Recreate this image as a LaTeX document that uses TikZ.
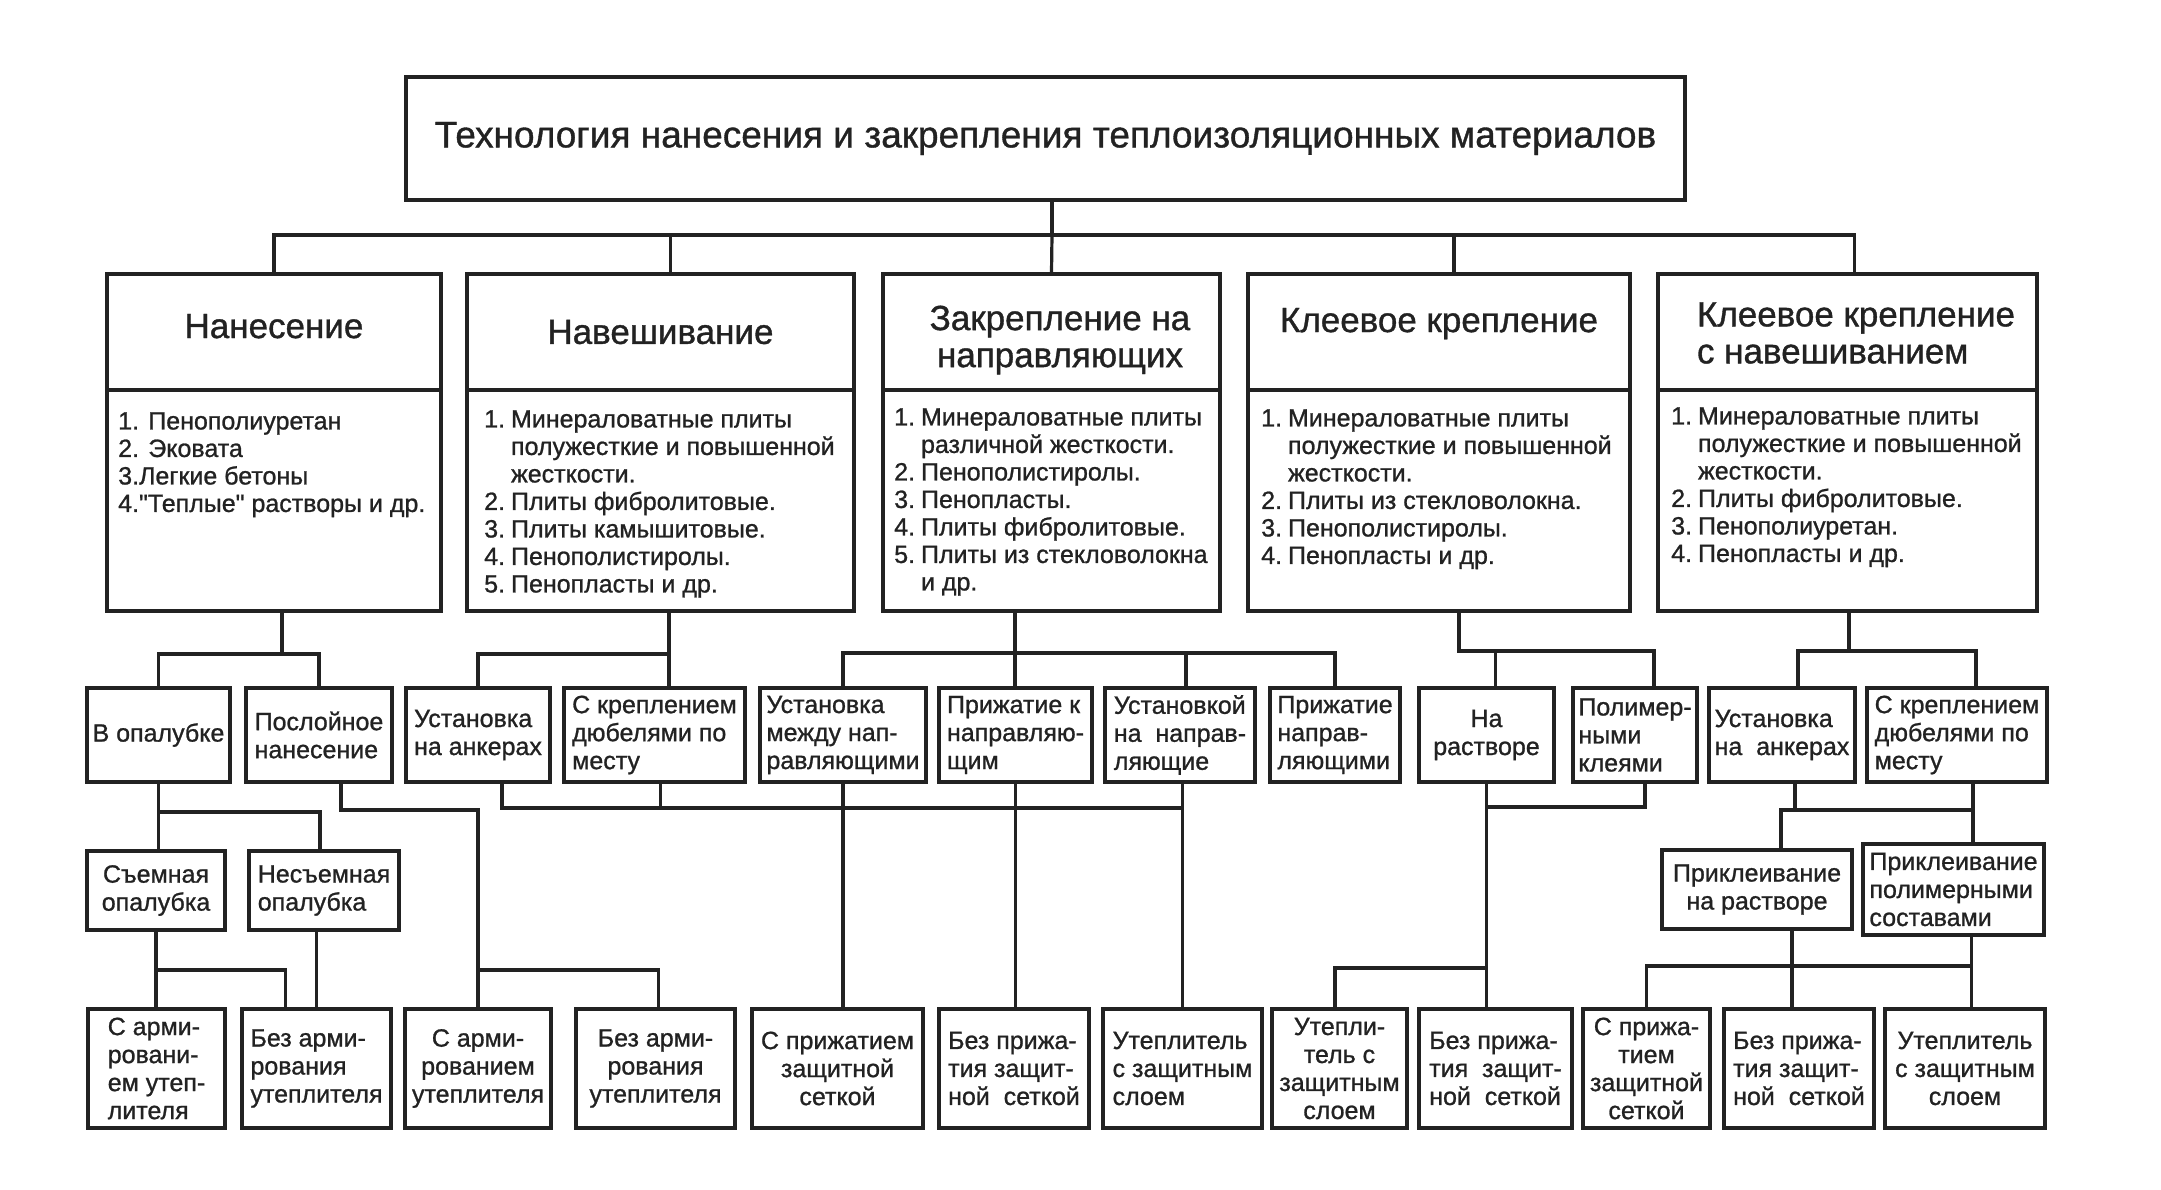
\documentclass[tikz,border=0pt]{standalone}
\usepackage{fontspec}
\setmainfont{Liberation Sans}[FakeBold=1]
\newfontfamily\rawfont{Liberation Sans}[FakeBold=1]
\definecolor{ink}{HTML}{222222}
\newcommand\bx[7][]{\node[box,minimum width={#4-#2},minimum height={#5-#3},#1] (#6) at ({(#2+#4)/2},{(#3+#5)/2}) {#7};}
\tikzset{
 box/.style={draw=ink, line width=3.4pt, inner sep=0pt, text=ink, font=\fontsize{25}{28}\selectfont},
 hdr/.style={font=\fontsize{35}{37}\selectfont},
 hdrtxt/.style={inner sep=0pt, text=ink, font=\fontsize{35}{37}\selectfont},
 link/.style={draw=ink, line width=3.2pt, line cap=rect},
 listtxt/.style={inner sep=0pt, text=ink, anchor=north west, font=\fontsize{25}{27.5}\selectfont},
}
\begin{document}
\begin{tikzpicture}[x=1pt,y=-1pt]
\useasboundingbox (0,0) rectangle (2161,1189);
% title
\bx[font=\fontsize{37}{40}\selectfont]{406}{77}{1685}{200}{title}{Технология нанесения и закрепления теплоизоляционных материалов}
% level 1 headers
\bx[hdr,text depth=12pt]{107}{274}{441}{390}{t1}{Нанесение}
\bx[hdr]{467}{274}{854}{390}{t2}{Навешивание}
\bx{883}{274}{1220}{390}{t3}{}
\node[hdrtxt,align=center] (t3x) at (1060,340) {Закрепление на\\направляющих};
\bx[hdr,text depth=24pt]{1248}{274}{1630}{390}{t4}{Клеевое крепление}
\bx{1658}{274}{2037}{390}{t5}{}
\node[hdrtxt,align=left] (t5x) at (1856,333) {Клеевое крепление\\с навешиванием};
% level 1 contents
\bx{107}{390}{441}{611}{c1}{}
\bx{467}{390}{854}{611}{c2}{}
\bx{883}{390}{1220}{611}{c3}{}
\bx{1248}{390}{1630}{611}{c4}{}
\bx{1658}{390}{2037}{611}{c5}{}
\node[listtxt] (l1) at (118,410) {\begin{tabular}{@{}l@{}}1. Пенополиуретан\\2. Эковата\\3.Легкие бетоны\\4.{\rawfont"}Теплые{\rawfont"} растворы и др.\end{tabular}};
\node[listtxt] (l2) at (484,408) {\begin{tabular}{@{}r@{\hspace{6pt}}l@{}}1.&Минераловатные плиты\\&полужесткие и повышенной\\&жесткости.\\2.&Плиты фибролитовые.\\3.&Плиты камышитовые.\\4.&Пенополистиролы.\\5.&Пенопласты и др.\end{tabular}};
\node[listtxt] (l3) at (894,406) {\begin{tabular}{@{}r@{\hspace{6pt}}l@{}}1.&Минераловатные плиты\\&различной жесткости.\\2.&Пенополистиролы.\\3.&Пенопласты.\\4.&Плиты фибролитовые.\\5.&Плиты из стекловолокна\\&и др.\end{tabular}};
\node[listtxt] (l4) at (1261,407) {\begin{tabular}{@{}r@{\hspace{6pt}}l@{}}1.&Минераловатные плиты\\&полужесткие и повышенной\\&жесткости.\\2.&Плиты из стекловолокна.\\3.&Пенополистиролы.\\4.&Пенопласты и др.\end{tabular}};
\node[listtxt] (l5) at (1671,405) {\begin{tabular}{@{}r@{\hspace{6pt}}l@{}}1.&Минераловатные плиты\\&полужесткие и повышенной\\&жесткости.\\2.&Плиты фибролитовые.\\3.&Пенополиуретан.\\4.&Пенопласты и др.\end{tabular}};
% level 2
\bx[align=left]{87}{688}{230}{782}{vop}{В опалубке}
\bx[align=left]{246}{688}{392}{782}{pos}{Послойное\\нанесение}
\bx[align=left]{406}{688}{550}{782}{ank1}{Установка\\на анкерах}
\bx[align=left]{564}{688}{745}{782}{dub1}{С креплением\\дюбелями по\\месту}
\bx[align=left]{760}{688}{926}{782}{um}{Установка\\между нап-\\равляющими}
\bx[align=left]{939}{688}{1092}{782}{pk}{Прижатие к\\направляю-\\щим}
\bx[align=left]{1105}{688}{1255}{782}{un}{Установкой\\на~~направ-\\ляющие}
\bx[align=left]{1270}{688}{1400}{782}{pn}{Прижатие\\направ-\\ляющими}
\bx[align=center]{1419}{688}{1554}{782}{nr}{На\\растворе}
\bx[align=left]{1573}{688}{1697}{782}{pm}{Полимер-\\ными\\клеями}
\bx[align=left]{1709}{688}{1855}{782}{ank2}{Установка\\на~~анкерах}
\bx[align=left]{1867}{688}{2047}{782}{dub2}{С креплением\\дюбелями по\\месту}
% level 3
\bx[align=center]{87}{851}{225}{930}{snp}{Съемная\\опалубка}
\bx[align=left]{249}{851}{399}{930}{nsp}{Несъемная\\опалубка}
\bx[align=center]{1662}{850}{1852}{929}{prr}{Приклеивание\\на растворе}
\bx[align=left]{1863}{844}{2044}{935}{ppc}{Приклеивание\\полимерными\\составами}
% bottom
\bx[align=left]{88}{1009}{225}{1128}{ca1}{С арми-\\ровани-\\ем утеп-\\лителя}
\bx[align=left]{242}{1009}{391}{1128}{ba1}{Без арми-\\рования\\утеплителя}
\bx[align=center]{405}{1009}{551}{1128}{ca2}{С арми-\\рованием\\утеплителя}
\bx[align=center]{576}{1009}{735}{1128}{ba2}{Без арми-\\рования\\утеплителя}
\bx[align=center]{752}{1009}{923}{1128}{sp1}{С прижатием\\защитной\\сеткой}
\bx[align=left]{939}{1009}{1089}{1128}{bp1}{Без прижа-\\тия защит-\\ной~~сеткой}
\bx[align=left]{1103}{1009}{1262}{1128}{ut1}{Утеплитель\\с защитным\\слоем}
\bx[align=center]{1272}{1009}{1407}{1128}{ut2}{Утепли-\\тель с\\защитным\\слоем}
\bx[align=left]{1419}{1009}{1572}{1128}{bp2}{Без прижа-\\тия~~защит-\\ной~~сеткой}
\bx[align=center]{1583}{1009}{1710}{1128}{sp2}{С прижа-\\тием\\защитной\\сеткой}
\bx[align=left]{1724}{1009}{1874}{1128}{bp3}{Без прижа-\\тия защит-\\ной~~сеткой}
\bx[align=center]{1885}{1009}{2045}{1128}{ut3}{Утеплитель\\с защитным\\слоем}
% helper levels
\coordinate (tb) at (1052,235);
\coordinate (g1) at (282,654);
\coordinate (g2) at (669,654);
\coordinate (g3) at (1015,653);
\coordinate (g4) at (1459,651);
\coordinate (g5) at (1849,651);
\coordinate (k1) at (158.5,812);
\coordinate (k2) at (156,970);
\coordinate (y807) at (0,807);
\coordinate (y808) at (0,808);
\coordinate (y810) at (0,810);
\coordinate (y966) at (0,966);
\coordinate (y968) at (0,968);
\coordinate (y970) at (0,970);
% top connectors
\draw[link] ([xshift=6.5pt]title.south) -- (tb);
\draw[link] (t1.north) |- (tb) -| ([xshift=7pt]t5.north);
\draw[link] ([xshift=10pt]t2.north) -- ([xshift=10pt]t2.north |- tb);
\draw[link] (tb) -- (t3.north);
\draw[link] ([xshift=15pt]t4.north) -- ([xshift=15pt]t4.north |- tb);
% level 1 -> 2
\draw[link] (c1.south -| g1) -- (g1);
\draw[link] (vop.north) |- (g1) -| (pos.north);
\draw[link] (c2.south -| g2) -- (dub1.north -| g2);
\draw[link] (ank1.north) |- (g2);
\draw[link] (c3.south -| g3) -- (pk.north -| g3);
\draw[link] (um.north) |- (g3) -| (pn.north);
\draw[link] ([xshift=6pt]un.north) -- ([xshift=6pt]un.north |- g3);
\draw[link] (c4.south -| g4) -- (g4) -| ([xshift=19pt]pm.north);
\draw[link] ([xshift=9pt]nr.north) -- ([xshift=9pt]nr.north |- g4);
\draw[link] (c5.south -| g5) -- (g5);
\draw[link] ([xshift=16pt]ank2.north) |- (g5) -| ([xshift=19pt]dub2.north);
% Nanesenie group
\draw[link] (vop.south) -- (vop.south |- snp.north);
\draw[link] (k1) -| ([xshift=-4pt]nsp.north);
\draw[link] (snp.south) -- (snp.south |- ca1.north);
\draw[link] (k2) -| ([xshift=-31pt]ba1.north);
\draw[link] (ba1.north) -- (ba1.north |- nsp.south);
\draw[link] ([xshift=22pt]pos.south) |- (ca2.north |- y810) -- (ca2.north);
\draw[link] (ca2.north |- y970) -| ([xshift=3pt]ba2.north);
% Navesh + Zakrep groups
\draw[link] ([xshift=24pt]ank1.south) |- (ut1.north |- y808) -- (ut1.north);
\draw[link] ([xshift=6pt]dub1.south) -- ([xshift=6pt]dub1.south |- y808);
\draw[link] (um.south) -- (um.south |- sp1.north);
\draw[link] (pk.south) -- (pk.south |- bp1.north);
\draw[link] ([xshift=2.5pt]un.south) -- ([xshift=2.5pt]un.south |- y808);
% Kleev group
\draw[link] (nr.south) -- (nr.south |- bp2.north);
\draw[link] ([xshift=10pt]pm.south) |- (nr.south |- y807);
\draw[link] (nr.south |- y968) -| ([xshift=-4.5pt]ut2.north);
% Kleev + navesh group
\draw[link] ([xshift=13pt]ank2.south) -- ([xshift=13pt]ank2.south |- y810);
\draw[link] ([xshift=24pt]prr.north) |- ([xshift=16pt]dub2.south |- y810);
\draw[link] ([xshift=16pt]dub2.south) -- ([xshift=16pt]dub2.south |- ppc.north);
\draw[link] ([xshift=35pt]prr.south) -- ([xshift=35pt]prr.south |- bp3.north);
\draw[link] (sp2.north) |- ([xshift=18pt]ppc.south |- y966);
\draw[link] ([xshift=18pt]ppc.south) -- ([xshift=18pt]ppc.south |- ut3.north);
\end{tikzpicture}
\end{document}
